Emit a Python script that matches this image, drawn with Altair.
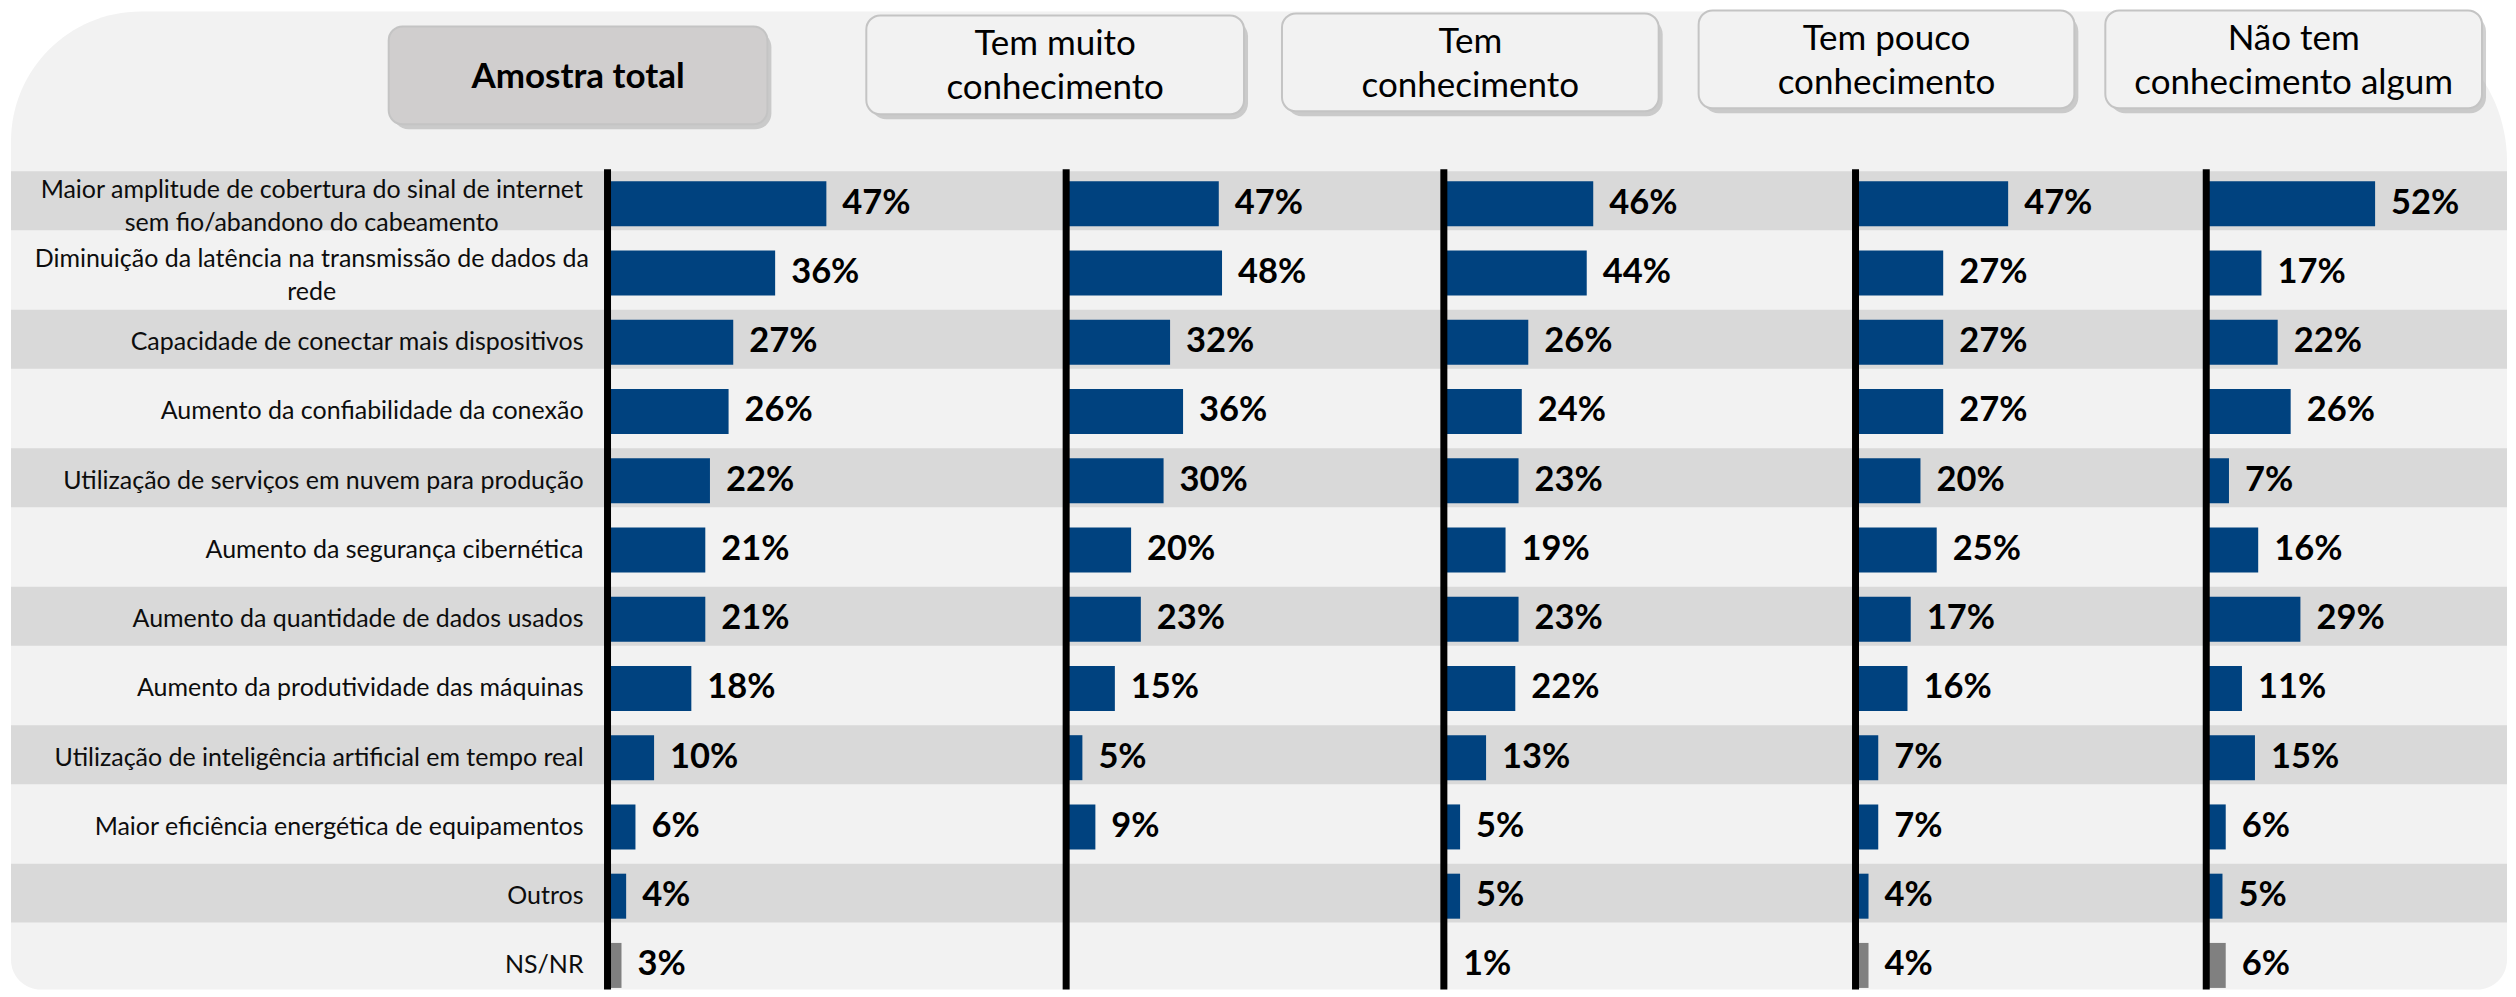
import altair as alt
import pandas as pd

# ---------------- data ----------------
categories = [
    "Maior amplitude de cobertura do sinal de internet\nsem fio/abandono do cabeamento",
    "Diminuição da latência na transmissão de dados da\nrede",
    "Capacidade de conectar mais dispositivos",
    "Aumento da confiabilidade da conexão",
    "Utilização de serviços em nuvem para produção",
    "Aumento da segurança cibernética",
    "Aumento da quantidade de dados usados",
    "Aumento da produtividade das máquinas",
    "Utilização de inteligência artificial em tempo real",
    "Maior eficiência energética de equipamentos",
    "Outros",
    "NS/NR",
]
group_titles = [
    "Amostra total",
    "Tem muito\nconhecimento",
    "Tem\nconhecimento",
    "Tem pouco\nconhecimento",
    "Não tem\nconhecimento algum",
]
amostra_total = [47, 36, 27, 26, 22, 21, 21, 18, 10, 6, 4, 3]
tem_muito = [47, 48, 32, 36, 30, 20, 23, 15, 5, 9, None, None]
tem = [46, 44, 26, 24, 23, 19, 23, 22, 13, 5, 5, 1]
tem_pouco = [47, 27, 27, 27, 20, 25, 17, 16, 7, 7, 4, 4]
nao_tem = [52, 17, 22, 26, 7, 16, 29, 11, 15, 6, 5, 6]
series = [amostra_total, tem_muito, tem, tem_pouco, nao_tem]

# ---------------- layout ----------------
H = 981
ROW0 = 159.85
STEP = 69.3
COL_W = [599, 459, 378, 412, 351, 301]
PX_PER_PCT = [4.66, 3.25, 3.25, 3.25, 3.25]
NAVY = "#00427F"
GRAY_BAR = "#808080"
STRIPE = "#D9D9D9"
BG = "#F2F2F2"
FONT = "Lato"

# header boxes (chart pixel coordinates): x, x2, y, y2
header_boxes = [
    (380, 759, 17, 115),
    (858, 1236, 6, 105),
    (1274, 1651, 4, 102),
    (1691, 2067, 1, 99),
    (2098, 2475, 1, 99),
]
header_fill = ["#D0CECE", BG, BG, BG, BG]

stripe_cats = [c for i, c in enumerate(categories) if i % 2 == 0]
stripe_df = pd.DataFrame({"cat": stripe_cats})

yscale = alt.Scale(domain=categories, range=[ROW0, ROW0 + 12 * STEP],
                   paddingInner=0, paddingOuter=0)
yenc = alt.Y("cat:N", sort=categories, scale=yscale, axis=None)


def stripes_layer(x0, w):
    return alt.Chart(stripe_df).mark_bar(
        height=alt.RelativeBandSize(0.85), color=STRIPE, yOffset=-3
    ).encode(y=yenc, x=alt.value(x0), x2=alt.value(w))


def panel(vals, w, ppp):
    rows = [(c, v) for c, v in zip(categories, vals) if v is not None]
    df = pd.DataFrame(rows, columns=["cat", "v"])
    df["lab"] = df["v"].map(lambda x: f"{int(x)}%")
    df["kind"] = ["ns" if c == "NS/NR" else "main" for c in df["cat"]]
    xenc = alt.X("v:Q", scale=alt.Scale(domain=[0, w / ppp], nice=False, zero=True), axis=None)
    bars = alt.Chart(df).mark_bar(height=alt.RelativeBandSize(0.65)).encode(
        y=yenc, x=xenc,
        color=alt.Color("kind:N", scale=alt.Scale(domain=["main", "ns"], range=[NAVY, GRAY_BAR]), legend=None),
    )
    text = alt.Chart(df).mark_text(
        align="left", baseline="middle", dx=16, font=FONT, fontWeight="bold",
        fontSize=34.5, color="#000000"
    ).encode(y=yenc, x=xenc, text="lab:N")
    rule = alt.Chart(pd.DataFrame({"a": [0]})).mark_rule(color="#000000", strokeWidth=7).encode(
        x=alt.value(0), y=alt.value(160), y2=alt.value(H)
    )
    return alt.layer(stripes_layer(0, w), bars, text, rule).properties(width=w, height=H)


# ---------------- label column with decorations ----------------
total_w = sum(COL_W)
bg = alt.Chart(pd.DataFrame({"a": [0]})).mark_rect(
    color=BG, cornerRadiusTopLeft=130, cornerRadiusTopRight=150,
    cornerRadiusBottomLeft=30, cornerRadiusBottomRight=30
).encode(x=alt.value(2), x2=alt.value(total_w), y=alt.value(2), y2=alt.value(H))

hdf = pd.DataFrame({
    "x": [b[0] for b in header_boxes], "x2": [b[1] for b in header_boxes],
    "y": [b[2] for b in header_boxes], "y2": [b[3] for b in header_boxes],
    "sx": [b[0] + 4 for b in header_boxes], "sx2": [b[1] + 4 for b in header_boxes],
    "sy": [b[2] + 5 for b in header_boxes], "sy2": [b[3] + 5 for b in header_boxes],
    "cx": [(b[0] + b[1]) / 2 for b in header_boxes],
    "cy": [(b[2] + b[3]) / 2 + 1.5 for b in header_boxes],
    "title": group_titles, "fill": header_fill,
    "bold": [i == 0 for i in range(len(group_titles))],
})
shadow = alt.Chart(hdf).mark_rect(color="#9A9A9A", opacity=0.45, cornerRadius=16).encode(
    x=alt.X("sx:Q", scale=None), x2="sx2:Q", y=alt.Y("sy:Q", scale=None), y2="sy2:Q")
boxes = alt.Chart(hdf).mark_rect(stroke="#C4C4C4", strokeWidth=2, cornerRadius=14).encode(
    x=alt.X("x:Q", scale=None), x2="x2:Q", y=alt.Y("y:Q", scale=None), y2="y2:Q",
    fill=alt.Fill("fill:N", scale=None))
htext_bold = alt.Chart(hdf).transform_filter("datum.bold").mark_text(
    font=FONT, fontSize=35, fontWeight="bold", color="#000000",
    align="center", baseline="middle").encode(
    x=alt.X("cx:Q", scale=None), y=alt.Y("cy:Q", scale=None), text="title:N")
htext = alt.Chart(hdf).transform_filter("!datum.bold").mark_text(
    font=FONT, fontSize=35, color="#000000", lineBreak="\n",
    lineHeight=44, align="center", baseline="middle", dy=-22).encode(
    x=alt.X("cx:Q", scale=None), y=alt.Y("cy:Q", scale=None), text="title:N")

ldf = pd.DataFrame({"cat": categories})
ldf["multi"] = ldf["cat"].str.contains("\n")
labels_single = alt.Chart(ldf).transform_filter("!datum.multi").mark_text(
    align="right", baseline="middle", font=FONT, fontSize=25, color="#0D0D0D"
).encode(y=yenc, x=alt.value(575), text="cat:N")
labels_multi = alt.Chart(ldf).transform_filter("datum.multi").mark_text(
    align="center", baseline="middle", font=FONT, fontSize=25, color="#0D0D0D",
    lineBreak="\n", lineHeight=33, dy=-14
).encode(y=yenc, x=alt.value(303), text="cat:N")

label_col = alt.layer(
    bg, stripes_layer(2, COL_W[0]), shadow, boxes, htext_bold, htext, labels_single, labels_multi
).resolve_scale(x="independent", y="independent").properties(width=COL_W[0], height=H)

panels = [panel(vals, COL_W[i + 1], PX_PER_PCT[i]) for i, vals in enumerate(series)]

chart = alt.hconcat(label_col, *panels, spacing=0, bounds="flush").properties(
    padding=0, background="#FFFFFF"
).configure_view(stroke="transparent")

chart.save("out.html", embed_options={"renderer": "svg", "actions": False})
